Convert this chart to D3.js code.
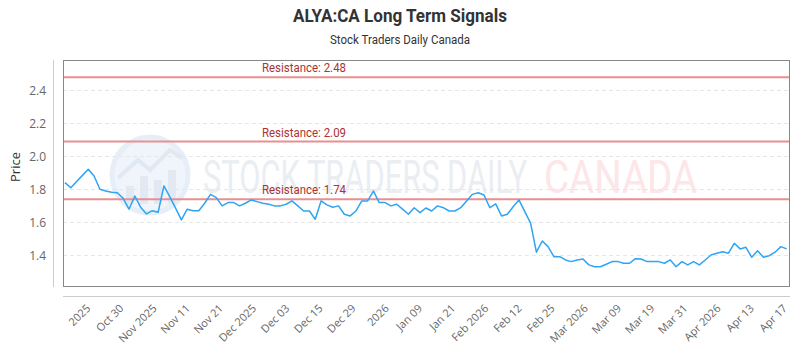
<!DOCTYPE html>
<html>
<head>
<meta charset="utf-8">
<script src="https://cdn.jsdelivr.net/npm/d3@7"></script>
<style>
  body { margin: 0; background: #fff; }
  svg { display: block; }
</style>
</head>
<body>
<svg id="chart"></svg>
<script>
// daily closes
const prices = [
  1.841, 1.810, 1.848, 1.885, 1.922, 1.881, 1.801, 1.790, 1.783, 1.780,
  1.746, 1.680, 1.760, 1.692, 1.651, 1.671, 1.661, 1.821, 1.756, 1.686,
  1.615, 1.680, 1.671, 1.671, 1.716, 1.770, 1.750, 1.700, 1.720, 1.720,
  1.700, 1.716, 1.736, 1.726, 1.716, 1.710, 1.700, 1.700, 1.710, 1.730,
  1.700, 1.669, 1.669, 1.619, 1.730, 1.706, 1.692, 1.700, 1.649, 1.639,
  1.669, 1.730, 1.730, 1.790, 1.720, 1.720, 1.700, 1.710, 1.680, 1.649,
  1.689, 1.659, 1.687, 1.669, 1.700, 1.689, 1.669, 1.669, 1.689, 1.730,
  1.770, 1.780, 1.766, 1.689, 1.712, 1.639, 1.649, 1.695, 1.736, 1.665,
  1.595, 1.419, 1.487, 1.453, 1.392, 1.392, 1.372, 1.362, 1.372, 1.378,
  1.342, 1.331, 1.331, 1.346, 1.362, 1.362, 1.352, 1.352, 1.380, 1.378,
  1.362, 1.362, 1.362, 1.352, 1.372, 1.331, 1.362, 1.342, 1.362, 1.342,
  1.372, 1.402, 1.413, 1.422, 1.413, 1.473, 1.439, 1.449, 1.388, 1.428,
  1.388, 1.398, 1.419, 1.453, 1.439
];

const tickLabels = [
  '2025', 'Oct 30', 'Nov 2025', 'Nov 11', 'Nov 21', 'Dec 2025', 'Dec 03',
  'Dec 15', 'Dec 29', '2026', 'Jan 09', 'Jan 21', 'Feb 2026', 'Feb 12',
  'Feb 25', 'Mar 2026', 'Mar 09', 'Mar 19', 'Mar 31', 'Apr 2026', 'Apr 13', 'Apr 17'
];

const yTicks = [1.4, 1.6, 1.8, 2.0, 2.2, 2.4];
const resistance = [2.48, 2.09, 1.74];

const W = 800, H = 350;
const plot = { left: 63, right: 790, top: 60, bottom: 286 };

const svg = d3.select('#chart').attr('width', W).attr('height', H);

const x = d3.scaleLinear().domain([-0.34, 124.57]).range([plot.left, plot.right]);
const y = d3.scaleLinear().domain([1.214, 2.585]).range([plot.bottom, plot.top]);
// labels sit on evenly spaced category ticks
const xt = d3.scalePoint().domain(tickLabels).range([x(2.6), x(122.3)]);

const narrow = 'Roboto, "Noto Sans", sans-serif';
const body = '"Open Sans", sans-serif';

// title
svg.append('text')
  .attr('x', W / 2).attr('y', 22)
  .attr('text-anchor', 'middle')
  .attr('textLength', 214).attr('lengthAdjust', 'spacingAndGlyphs')
  .style('font-family', narrow).style('font-weight', 'bold')
  .style('font-size', '18px').style('fill', '#333')
  .text('ALYA:CA Long Term Signals');

svg.append('text')
  .attr('x', W / 2).attr('y', 44)
  .attr('text-anchor', 'middle')
  .attr('textLength', 140).attr('lengthAdjust', 'spacingAndGlyphs')
  .style('font-family', narrow).style('font-size', '12px').style('fill', '#333')
  .text('Stock Traders Daily Canada');

// watermark
const wm = svg.append('g');
wm.append('circle').attr('cx', 150).attr('cy', 175).attr('r', 38)
  .attr('fill', '#f0f5fb').attr('stroke', '#e6eef8').attr('stroke-width', 5);
wm.append('path').attr('d', 'M118,178 L138,160 L150,170 L170,150 L182,158')
  .attr('fill', 'none').attr('stroke', '#dfe8f3').attr('stroke-width', 4);
[[126, 186, 8, 18], [140, 176, 8, 28], [154, 180, 8, 24], [168, 170, 8, 34]].forEach(([bx, by, bw, bh]) => {
  wm.append('rect').attr('x', bx).attr('y', by).attr('width', bw).attr('height', bh).attr('fill', '#e2e9f3');
});
wm.append('text').attr('x', 203).attr('y', 193)
  .attr('textLength', 324).attr('lengthAdjust', 'spacingAndGlyphs')
  .style('font-family', narrow).style('font-size', '46px').style('fill', '#eaeef3')
  .text('STOCK TRADERS DAILY');
wm.append('text').attr('x', 544).attr('y', 193)
  .attr('textLength', 153).attr('lengthAdjust', 'spacingAndGlyphs')
  .style('font-family', narrow).style('font-size', '46px').style('fill', '#fce6e8')
  .text('CANADA');

// grid
svg.append('g')
  .selectAll('line')
  .data(yTicks)
  .join('line')
  .attr('x1', plot.left).attr('x2', plot.right)
  .attr('y1', (d) => Math.round(y(d)) + 0.5).attr('y2', (d) => Math.round(y(d)) + 0.5)
  .attr('stroke', '#e6e6e6').attr('stroke-dasharray', '4,3');

// y axis labels
svg.append('g')
  .selectAll('text')
  .data(yTicks)
  .join('text')
  .attr('x', 46).attr('y', (d) => y(d) + 5)
  .attr('text-anchor', 'end')
  .style('font-family', body).style('font-size', '12px').style('fill', '#666')
  .text((d) => d.toFixed(1));

svg.append('text')
  .attr('transform', 'translate(20,167) rotate(-90)')
  .attr('text-anchor', 'middle')
  .style('font-family', body).style('font-size', '13px').style('fill', '#333')
  .text('Price');

svg.append('line')
  .attr('x1', 53.5).attr('x2', 53.5).attr('y1', plot.top).attr('y2', plot.bottom + 1)
  .attr('stroke', '#ccc');

// x axis
svg.append('line')
  .attr('x1', plot.left).attr('x2', plot.right).attr('y1', 296.5).attr('y2', 296.5)
  .attr('stroke', '#ccc');

svg.append('g')
  .selectAll('text')
  .data(tickLabels)
  .join('text')
  .attr('transform', (d) => `translate(${xt(d) + 11},309) rotate(-45)`)
  .attr('text-anchor', 'end')
  .style('font-family', body).style('font-size', '11px').style('fill', '#666')
  .text((d) => d);

// resistance lines
svg.append('g')
  .selectAll('line')
  .data(resistance)
  .join('line')
  .attr('x1', plot.left).attr('x2', plot.right)
  .attr('y1', (d) => y(d)).attr('y2', (d) => y(d))
  .attr('stroke', '#e88f8f').attr('stroke-width', 2);

svg.append('g')
  .selectAll('text')
  .data(resistance)
  .join('text')
  .attr('x', 262).attr('y', (d) => y(d) - 5)
  .attr('textLength', 84).attr('lengthAdjust', 'spacingAndGlyphs')
  .style('font-family', narrow).style('font-size', '12px').style('fill', '#a33')
  .text((d) => `Resistance: ${d.toFixed(2)}`);

// price line
const line = d3.line().x((d, i) => x(i)).y((d) => y(d));
svg.append('path')
  .datum(prices)
  .attr('d', line)
  .attr('fill', 'none')
  .attr('stroke', '#2fa4f3')
  .attr('stroke-width', 1.5)
  .attr('stroke-linejoin', 'round');

// plot frame
svg.append('rect')
  .attr('x', plot.left + 0.5).attr('y', plot.top + 0.5)
  .attr('width', plot.right - plot.left - 1).attr('height', plot.bottom - plot.top)
  .attr('fill', 'none').attr('stroke', '#888');
</script>
</body>
</html>
